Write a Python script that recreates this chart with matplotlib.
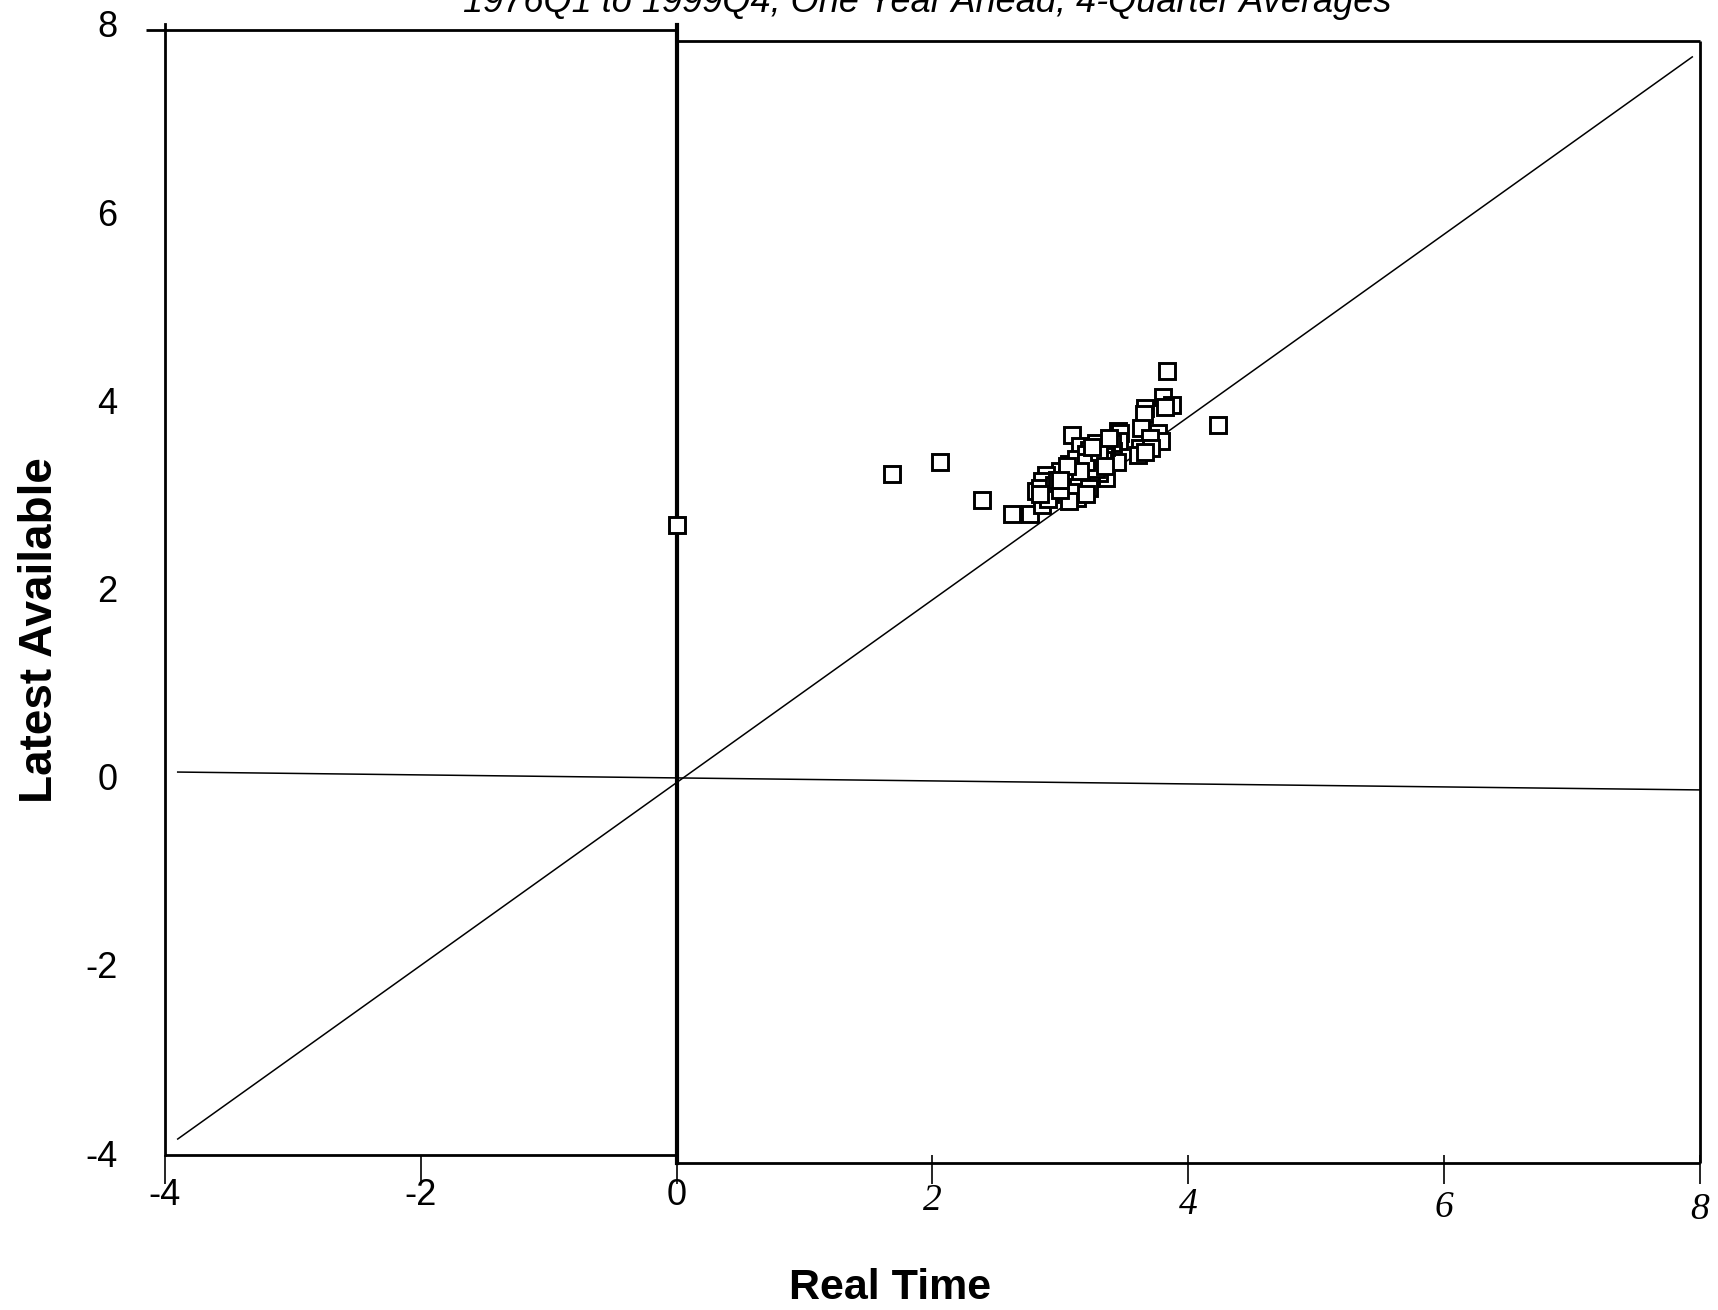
import matplotlib
matplotlib.use("Agg")
import matplotlib.pyplot as plt
from matplotlib.transforms import ScaledTranslation

# Real-time vs latest-available values, one year ahead, 4-quarter averages
real_time = [
    0.00, 1.68, 2.06, 2.39, 2.62, 2.76,
    3.83, 3.80, 3.87, 4.23, 3.66, 3.09, 3.82, 3.65,
    3.45, 3.47, 3.63, 3.76, 3.79, 3.70, 3.62, 3.71, 3.61, 3.66,
    3.46, 3.41, 3.44, 3.40, 3.36, 3.34,
    3.28, 3.26, 3.18, 3.31, 3.07, 3.13, 3.23, 3.36, 3.20, 3.07,
    3.00, 3.13, 3.15, 3.22, 3.25, 3.18, 3.12, 3.30, 3.24, 3.16,
    3.10, 3.05, 3.20, 3.28, 3.33, 3.14, 3.22, 3.10, 3.07, 3.20,
    2.89, 2.81, 2.86, 2.86, 2.92, 2.84, 2.95, 2.90, 3.00, 2.97, 2.84,
    3.20, 3.30, 3.15, 3.25, 3.35, 3.05, 3.00, 3.38,
]
latest = [
    2.68, 3.22, 3.34, 2.94, 2.79, 2.79,
    4.31, 4.04, 3.95, 3.74, 3.92, 3.63, 3.93, 3.86,
    3.67, 3.65, 3.71, 3.65, 3.57, 3.60, 3.49, 3.49, 3.42, 3.45,
    3.57, 3.46, 3.35, 3.55, 3.50, 3.41,
    3.55, 3.42, 3.39, 3.32, 3.32, 3.23, 3.25, 3.18, 3.12, 3.11,
    3.25, 2.96, 3.51, 3.47, 3.35, 3.30, 3.38, 3.23, 3.17, 3.15,
    3.20, 3.17, 3.43, 3.27, 3.37, 3.08, 3.07, 3.03, 2.93, 3.00,
    3.21, 3.04, 3.14, 2.89, 3.00, 3.07, 3.10, 2.95, 3.05, 3.15, 3.00,
    3.35, 3.45, 3.25, 3.50, 3.30, 3.30, 3.15, 3.60,
]

# reference lines as they come out of the scan (slightly skewed)
diag_x = [-3.9, 7.94]
diag_y = [-3.85, 7.65]
zero_x = [-3.9, 8.0]
zero_y = [0.05, -0.14]

xticks = [-4, -2, 0, 2, 4, 6, 8]
yticks = [-4, -2, 0, 2, 4, 6, 8]
# the scanned labels drift downward towards the right (pixels)
xlabel_drop = [-8, -8, -8, -2, 2, 5, 7]

fig = plt.figure(figsize=(17.18, 13.10), dpi=100)
ax = fig.add_axes([0.096, 0.1183, 0.8935, 0.8634])
ax.set_xlim(-4, 8)
ax.set_ylim(-4.02, 8.0)

for s in ["top", "right", "bottom"]:
    ax.spines[s].set_visible(False)
ax.spines["left"].set_linewidth(2.0)

# frame pieces (left and right halves of the scan are offset)
kw = dict(color="black", lw=2.0, clip_on=False, solid_capstyle="butt")
ax.plot([-4.15, 0], [7.94, 7.94], **kw)
ax.plot([0, 8], [7.82, 7.82], **kw)
ax.plot([-4, 0], [-4.02, -4.02], **kw)
ax.plot([0, 8], [-4.11, -4.11], **kw)
ax.plot([8, 8], [7.82, -4.11], **kw)
ax.plot([0, 0], [7.99, -4.11], color="black", lw=3.0, clip_on=False)

ax.plot(diag_x, diag_y, color="black", lw=1.1)
ax.plot(zero_x, zero_y, color="black", lw=1.1)

ax.plot(real_time, latest, linestyle="none", marker="s", markersize=11.5,
        markerfacecolor="white", markeredgecolor="black", markeredgewidth=2.1)

ax.set_xticks(xticks)
ax.set_yticks(yticks)
ax.set_xticklabels([str(v) for v in xticks])
ax.set_yticklabels([str(v) for v in yticks])
ax.tick_params(axis="x", direction="out", length=21, width=1.2, pad=1)
ax.tick_params(axis="y", length=0, pad=34)

for tick, v, dy in zip(ax.xaxis.get_major_ticks(), xticks, xlabel_drop):
    lab = tick.label1
    if v > 0:
        lab.set_fontfamily("Liberation Serif")
        lab.set_fontstyle("italic")
        lab.set_fontsize(27)
    else:
        lab.set_fontfamily("Liberation Sans")
        lab.set_fontsize(26)
    lab.set_transform(lab.get_transform() +
                      ScaledTranslation(0, -dy / 100, fig.dpi_scale_trans))
for lab in ax.get_yticklabels():
    lab.set_fontfamily("Liberation Sans")
    lab.set_fontsize(26)

fig.text(890 / 1718, 1 - 1288 / 1310, "Real Time", ha="center", va="center",
         fontsize=31, fontweight="bold", family="Liberation Sans")
fig.text(40 / 1718, 1 - 630 / 1310, "Latest Available", ha="center", va="center",
         rotation=90, fontsize=33, fontweight="bold", family="Liberation Sans")
fig.text(927 / 1718, 0.9905, "1976Q1 to 1999Q4, One Year Ahead, 4-Quarter Averages",
         ha="center", va="baseline", fontsize=26, style="italic",
         family="Liberation Sans")

fig.savefig("out.png", dpi=100, facecolor="white")
